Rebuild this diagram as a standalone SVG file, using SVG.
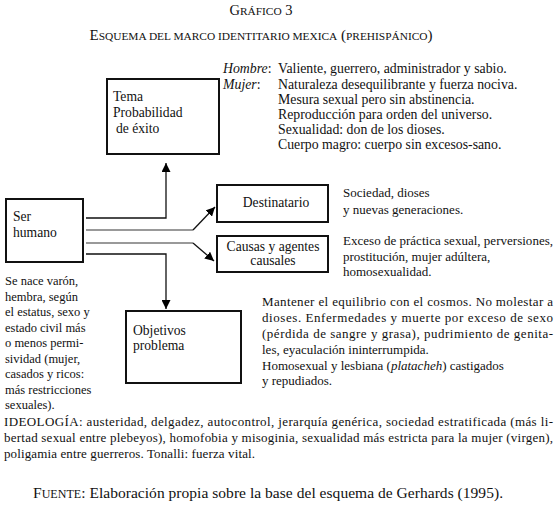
<svg xmlns="http://www.w3.org/2000/svg" width="556" height="508" viewBox="0 0 556 508">
<defs>
<marker id="ah" viewBox="0 0 10 10" refX="10" refY="5" markerWidth="9" markerHeight="9" markerUnits="userSpaceOnUse" orient="auto"><path d="M0,0 L10,5 L0,10 z" fill="#000"/></marker>
<style>
text{font-family:"Liberation Serif","Times New Roman",serif;font-size:13px;fill:#111}
.bx{font-size:13.6px}
.big{font-size:13.8px}
.lf{font-size:12.5px}
.box{fill:#fff;stroke:#111;stroke-width:2}
.ln{fill:none;stroke:#111;stroke-width:1.3}
.gl{fill:none;stroke:#999;stroke-width:2}
.it{font-style:italic}
.sc{font-size:11.4px}
</style>
</defs>
<rect width="556" height="508" fill="#fff"/>
<g id="title">
<text x="261" y="15" text-anchor="middle" style="font-size:14.5px">G<tspan class="sc">RÁFICO</tspan> 3</text>
<text x="261" y="40" text-anchor="middle" style="font-size:15px" textLength="343" lengthAdjust="spacing">E<tspan class="sc">SQUEMA DEL MARCO IDENTITARIO MEXICA</tspan> (<tspan class="sc">PREHISPÁNICO</tspan>)</text>
</g>
<g id="connectors">
<path class="ln" d="M86,218 H166 V163" marker-end="url(#ah)"/>
<path class="gl" d="M86,230 H193"/>
<path class="ln" d="M193,230 L215,207" marker-end="url(#ah)"/>
<path class="gl" d="M86,243 H193"/>
<path class="ln" d="M193,243 L214,261" marker-end="url(#ah)"/>
<path class="ln" d="M86,254 H166 V309" marker-end="url(#ah)"/>
</g>
<g id="tema">
<rect class="box" x="107" y="79" width="112" height="75"/>
<text class="bx" x="113" y="101">Tema</text>
<text class="bx" x="113" y="117">Probabilidad</text>
<text class="bx" x="116" y="133">de éxito</text>
</g>
<g id="tema-notes">
<text class="big" x="223" y="73"><tspan class="it">Hombre</tspan>:</text>
<text class="big" x="278" y="73">Valiente, guerrero, administrador y sabio.</text>
<text class="big" x="223" y="89"><tspan class="it">Mujer</tspan>:</text>
<text class="big" x="278" y="89">Naturaleza desequilibrante y fuerza nociva.</text>
<text class="big" x="278" y="104">Mesura sexual pero sin abstinencia.</text>
<text class="big" x="278" y="119">Reproducción para orden del universo.</text>
<text class="big" x="278" y="134">Sexualidad: don de los dioses.</text>
<text class="big" x="278" y="149">Cuerpo magro: cuerpo sin excesos-sano.</text>
</g>
<g id="ser-humano">
<rect class="box" x="6" y="199" width="77" height="63"/>
<text class="bx" x="13" y="221">Ser</text>
<text class="bx" x="13" y="237">humano</text>
</g>
<g id="ser-notes">
<text class="lf" x="5" y="285">Se nace varón,</text>
<text class="lf" x="5" y="300.5">hembra, según</text>
<text class="lf" x="5" y="316">el estatus, sexo y</text>
<text class="lf" x="5" y="331.5">estado civil más</text>
<text class="lf" x="5" y="347">o menos permi-</text>
<text class="lf" x="5" y="362.5">sividad (mujer,</text>
<text class="lf" x="5" y="378">casados y ricos:</text>
<text class="lf" x="5" y="393.5">más restricciones</text>
<text class="lf" x="5" y="409">sexuales).</text>
</g>
<g id="destinatario">
<rect class="box" x="217" y="185" width="111" height="37"/>
<text class="bx" x="276" y="207" text-anchor="middle">Destinatario</text>
</g>
<g id="destinatario-notes">
<text x="343" y="197">Sociedad, dioses</text>
<text x="343" y="214">y nuevas generaciones.</text>
</g>
<g id="causas">
<rect class="box" x="217" y="236" width="111" height="36"/>
<text class="bx" x="273" y="251" text-anchor="middle">Causas y agentes</text>
<text class="bx" x="273" y="265" text-anchor="middle">causales</text>
</g>
<g id="causas-notes">
<text x="343" y="245" textLength="210" lengthAdjust="spacing">Exceso de práctica sexual, perversiones,</text>
<text x="343" y="261">prostitución, mujer adúltera,</text>
<text x="343" y="276">homosexualidad.</text>
</g>
<g id="objetivos">
<rect class="box" x="126" y="311" width="115" height="72"/>
<text class="bx" x="133" y="335">Objetivos</text>
<text class="bx" x="133" y="350">problema</text>
</g>
<g id="objetivos-notes">
<text x="262" y="306" textLength="291" lengthAdjust="spacing">Mantener el equilibrio con el cosmos. No molestar a</text>
<text x="262" y="322" textLength="291" lengthAdjust="spacing">dioses. Enfermedades y muerte por exceso de sexo</text>
<text x="262" y="338" textLength="291" lengthAdjust="spacing">(pérdida de sangre y grasa), pudrimiento de genita-</text>
<text x="262" y="354">les, eyaculación ininterrumpida.</text>
<text x="262" y="370">Homosexual y lesbiana (<tspan class="it">platacheh</tspan>) castigados</text>
<text x="262" y="385">y repudiados.</text>
</g>
<g id="ideologia">
<text x="4" y="426" textLength="549" lengthAdjust="spacing">IDEOLOGÍA: austeridad, delgadez, autocontrol, jerarquía genérica, sociedad estratificada (más li-</text>
<text x="4" y="442" textLength="549" lengthAdjust="spacing">bertad sexual entre plebeyos), homofobia y misoginia, sexualidad más estricta para la mujer (virgen),</text>
<text x="4" y="458" textLength="251" lengthAdjust="spacing">poligamia entre guerreros. Tonalli: fuerza vital.</text>
</g>
<g id="fuente">
<text x="33" y="498" style="font-size:15.5px" textLength="470" lengthAdjust="spacing">F<tspan style="font-size:12px">UENTE</tspan>: Elaboración propia sobre la base del esquema de Gerhards (1995).</text>
</g>
</svg>
